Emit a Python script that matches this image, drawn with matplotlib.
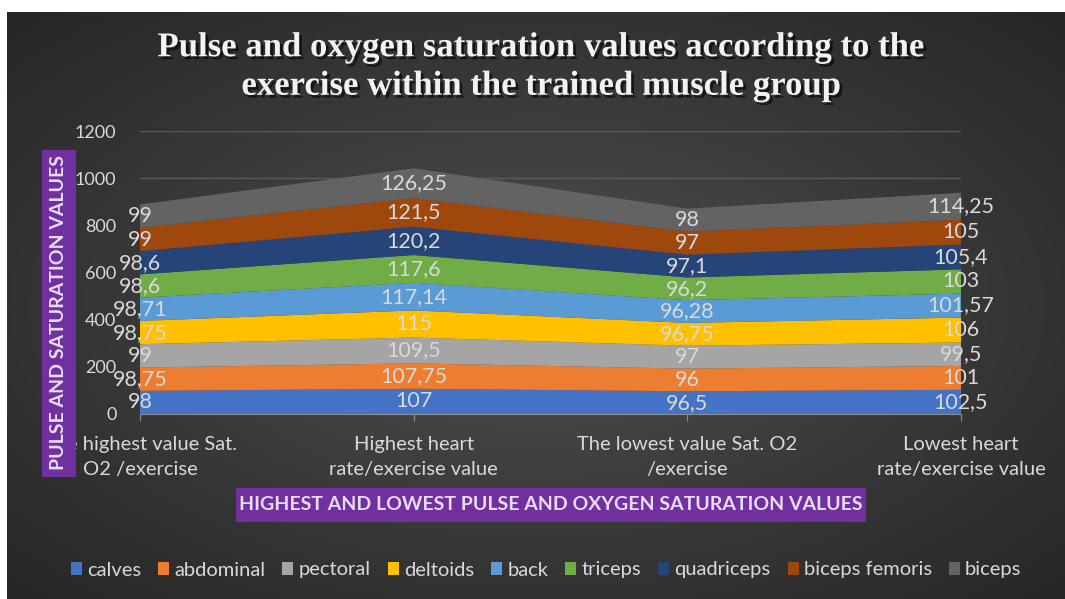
import numpy as np
import matplotlib.pyplot as plt
from matplotlib.patches import Rectangle
import matplotlib.patheffects as pe

# categories on the x axis
categories = ["The highest value Sat.\nO2 /exercise",
              "Highest heart\nrate/exercise value",
              "The lowest value Sat. O2\n/exercise",
              "Lowest heart\nrate/exercise value"]

muscles = ["calves", "abdominal", "pectoral", "deltoids", "back",
           "triceps", "quadriceps", "biceps femoris", "biceps"]

calves = [98, 107, 96.5, 102.5]
abdominal = [98.75, 107.75, 96, 101]
pectoral = [99, 109.5, 97, 99.5]
deltoids = [98.75, 115, 96.75, 106]
back = [98.71, 117.14, 96.28, 101.57]
triceps = [98.6, 117.6, 96.2, 103]
quadriceps = [98.6, 120.2, 97.1, 105.4]
biceps_femoris = [99, 121.5, 97, 105]
biceps = [99, 126.25, 98, 114.25]

series = [calves, abdominal, pectoral, deltoids, back,
          triceps, quadriceps, biceps_femoris, biceps]
colors = ["#4472C4", "#ED7D31", "#A5A5A5", "#FFC000", "#5B9BD5",
          "#70AD47", "#264478", "#9E480E", "#636363"]

W, H = 1065, 599
FONT = "Lato"
TXT = "#d9d9d9"
PURPLE = "#7030A0"

fig = plt.figure(figsize=(W / 100, H / 100), dpi=100, facecolor="white")

# dark radial background
bg = fig.add_axes([7 / W, 0, 1 - 7 / W, (H - 12) / H])
yy, xx = np.mgrid[0:300, 0:530]
r = np.sqrt(((xx - 265) / 265) ** 2 + ((yy - 150) / 150) ** 2) / np.sqrt(2)
shade = 0.32 - 0.17 * np.clip(r, 0, 1) ** 0.9
img = np.dstack([shade, shade, shade])
bg.imshow(img, aspect="auto", extent=[0, 1, 0, 1], interpolation="bilinear")
bg.axis("off")

ax = fig.add_axes([140 / W, (H - 414) / H, (961 - 140) / W, (414 - 131) / H])
ax.patch.set_alpha(0)
x = np.arange(len(categories))
data = np.array(series)
ax.stackplot(x, data, colors=colors, labels=muscles, zorder=3, linewidth=0)

# value labels centred in each band
base = np.zeros(len(categories))
for vals in data:
    for i, v in enumerate(vals):
        lab = f"{v:g}".replace(".", ",")
        ax.text(i, base[i] + v / 2, lab, ha="center", va="center",
                fontsize=15.5, color=TXT, family=FONT, zorder=5)
    base += vals

ax.set_xlim(0, 3)
ax.set_ylim(0, 1200)
ax.set_yticks(range(0, 1201, 200))
ax.set_xticks(x)
ax.set_xticklabels(categories, fontsize=14.5, color=TXT, family=FONT,
                   linespacing=1.55)
for t in ax.get_yticklabels():
    t.set_fontsize(13)
    t.set_color(TXT)
    t.set_family(FONT)
ax.tick_params(axis="y", length=0, pad=17)
ax.tick_params(axis="x", length=5, color="#8c8c8c", pad=11)
ax.grid(axis="y", color="#5a5a5a", linewidth=1, zorder=0)
for s in ["top", "right", "left"]:
    ax.spines[s].set_visible(False)
ax.spines["bottom"].set_color("#8c8c8c")
ax.spines["bottom"].set_zorder(4)

# title
fig.text(541 / W, 1 - 67 / H,
         "Pulse and oxygen saturation values according to the\n"
         "exercise within the trained muscle group",
         ha="center", va="center", fontsize=25, fontweight="bold",
         family="Liberation Serif", color="#f2f2f2", linespacing=1.22,
         path_effects=[pe.withSimplePatchShadow(offset=(2, -2),
                                                shadow_rgbFace="black",
                                                alpha=0.6)])

# y axis title box
fig.patches.append(Rectangle((42 / W, 1 - 477 / H), 34 / W, 327 / H,
                             transform=fig.transFigure, facecolor=PURPLE,
                             edgecolor="none", zorder=6))
fig.text(59 / W, 1 - 313 / H, "PULSE AND SATURATION VALUES", rotation=90,
         ha="center", va="center", fontsize=14, fontweight="bold",
         family=FONT, color="#e8dcf2", zorder=7)

# x axis title box
fig.patches.append(Rectangle((236 / W, 1 - 522 / H), 630 / W, 34 / H,
                             transform=fig.transFigure, facecolor=PURPLE,
                             edgecolor="none", zorder=6))
fig.text(551 / W, 1 - 505 / H,
         "HIGHEST AND LOWEST PULSE AND OXYGEN SATURATION VALUES",
         ha="center", va="center", fontsize=14, fontweight="bold",
         family=FONT, color="#e8dcf2", zorder=7)

handles, labels = ax.get_legend_handles_labels()
leg = fig.legend(handles, labels, loc="center", bbox_to_anchor=(546 / W, 1 - 570 / H),
                 ncol=9, frameon=False, handlelength=0.55, handleheight=0.6,
                 handletextpad=0.25, columnspacing=0.85,
                 prop={"family": FONT, "size": 14.5})
for t in leg.get_texts():
    t.set_color(TXT)

fig.savefig("out.png", dpi=100, facecolor="white")
